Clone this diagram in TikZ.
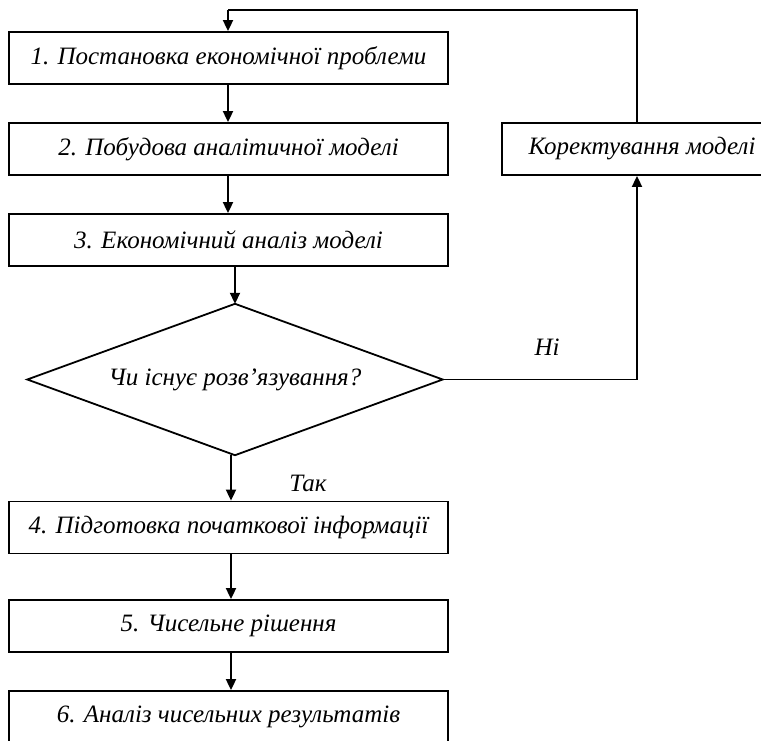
\documentclass[tikz,border=0pt]{standalone}
\usepackage{fontspec}
\setmainfont{Liberation Serif}
\usetikzlibrary{arrows.meta,calc}
\tikzset{
  blk/.style={draw, line width=1.8pt, minimum width=439pt, minimum height=52pt, inner sep=0pt, font=\fontsize{25}{30}\selectfont\itshape},
  dectext/.style={minimum width=415pt, minimum height=151pt, inner sep=0pt, font=\fontsize{25}{30}\selectfont\itshape},
  lbl/.style={inner sep=0pt, font=\fontsize{25}{30}\selectfont\itshape},
  con/.style={line width=1.8pt, -{Triangle[length=11pt,width=10pt]}},
  ln/.style={line width=1.8pt}
}
\begin{document}
\begin{tikzpicture}[x=1pt,y=1pt]
\useasboundingbox (0,0) rectangle (761,-740);
\node[blk] (b1) at (228.5,-58) {1. Постановка економічної проблеми};
\node[blk] (b2) at (228.5,-149) {2. Побудова аналітичної моделі};
\node[blk] (b3) at (228.5,-240) {3. Економічний аналіз моделі};
\node[dectext] (d) at (235,-379.5) {Чи існує розв’язування?};
\draw[ln, line join=miter] (d.north) -- (d.east) -- (d.south) -- (d.west) -- cycle;
\node[blk] (b4) at (228.5,-527.5) {4. Підготовка початкової інформації};
\node[blk] (b5) at (228.5,-626) {5. Чисельне рішення};
\node[blk] (b6) at (228.5,-717) {6. Аналіз чисельних результатів};
\node[blk, minimum width=280pt] (k) at (642,-149) {Коректування моделі};
\node[lbl] (no) at (547,-347) {Ні};
\node[lbl] (yes) at (308,-483) {Так};
\coordinate (kx) at (637,-149);
\coordinate (top) at (228,-10);
\coordinate (c1) at (228,0);
\coordinate (c4) at (231,0);
\draw[con] (b1.south -| c1) -- (b2.north -| c1);
\draw[con] (b2.south -| c1) -- (b3.north -| c1);
\draw[con] (b3.south -| d.north) -- (d.north);
\draw[con] (d.south -| c4) -- (b4.north -| c4);
\draw[con] (b4.south -| c4) -- (b5.north -| c4);
\draw[con] (b5.south -| c4) -- (b6.north -| c4);
\draw[con] (d.east) -| (kx |- k.south);
\draw[ln] (kx |- k.north) |- (top);
\draw[con] (top) -- (b1.north -| top);
\end{tikzpicture}
\end{document}
